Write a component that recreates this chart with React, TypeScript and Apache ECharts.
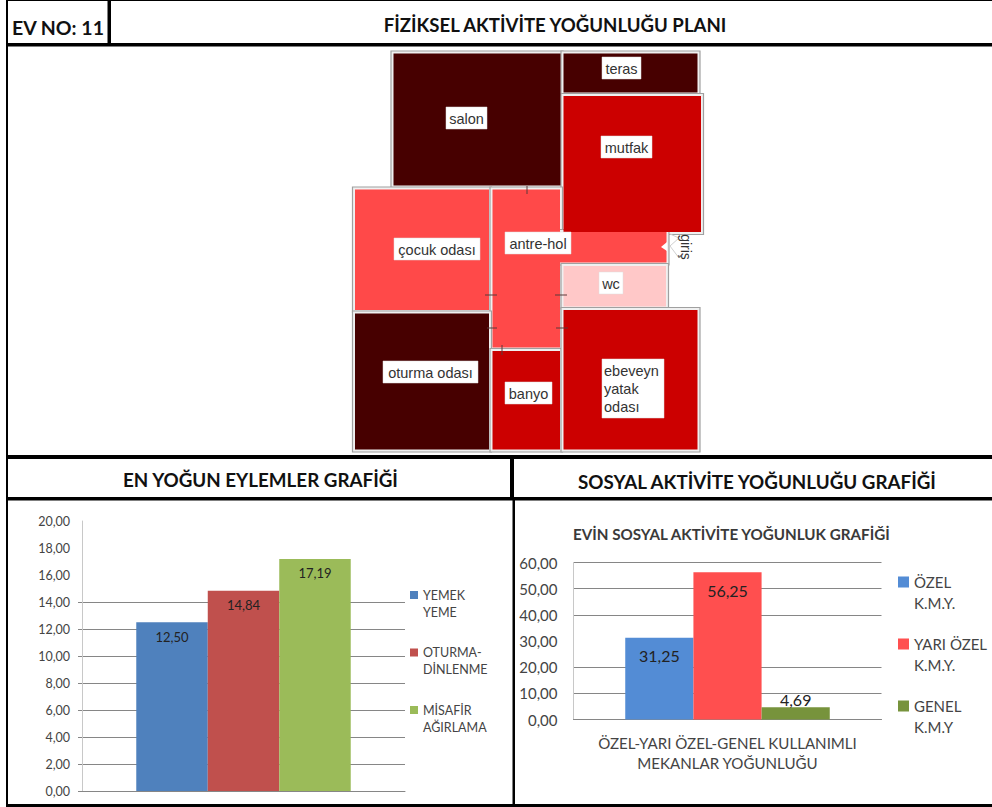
import React, { useEffect, useRef } from "react";
import * as echarts from "echarts";

// ---- data ----
const eylemNames = ["YEMEK\nYEME", "OTURMA-\nDİNLENME", "MİSAFİR\nAĞIRLAMA"];
const eylemValues = [12.5, 14.84, 17.19];
const sosyalNames = ["ÖZEL\nK.M.Y.", "YARI ÖZEL\nK.M.Y.", "GENEL\nK.M.Y"];
const sosyalValues = [31.25, 56.25, 4.69];
const sosyalCategory = ["ÖZEL-YARI ÖZEL-GENEL KULLANIMLI\nMEKANLAR YOĞUNLUĞU"];
const headerEvNo = "EV NO: 11";
const headerPlan = "FİZİKSEL AKTİVİTE YOĞUNLUĞU PLANI";
const headerEylem = "EN YOĞUN EYLEMLER GRAFİĞİ";
const headerSosyal = "SOSYAL AKTİVİTE YOĞUNLUĞU GRAFİĞİ";
const sosyalTitle = "EVİN SOSYAL AKTİVİTE YOĞUNLUK GRAFİĞİ";

const UI_FONT = "Lato, 'Open Sans', sans-serif";
const PLAN_FONT = "'Liberation Sans', Arial, sans-serif";

const C_DARK = "#470000";
const C_MID = "#CC0000";
const C_LIGHT = "#FF4949";
const C_PALE = "#FFC8C8";

type R = [number, number, number, number, string];
const rooms: R[] = [
  [393.5, 53.5, 560.5, 185.5, C_DARK],
  [563.5, 53.5, 697.5, 92.5, C_DARK],
  [563.5, 96, 701, 232, C_MID],
  [355, 189.5, 489, 310, C_LIGHT],
  [492.5, 189.5, 560, 347.5, C_LIGHT],
  [560, 232, 666.5, 262.5, C_LIGHT],
  [563.5, 266, 666, 306.5, C_PALE],
  [355, 313.5, 489, 449.5, C_DARK],
  [492.5, 351, 560, 449.5, C_MID],
  [563.5, 310, 697.5, 449.5, C_MID],
];

const labels: [string, number, number, number, number][] = [
  ["salon", 446, 107, 487, 129],
  ["teras", 602, 57, 641, 79],
  ["mutfak", 601, 136, 652, 158],
  ["çocuk odası", 394, 238, 480, 260],
  ["antre-hol", 505, 232, 571, 254],
  ["wc", 599, 272, 623, 294],
  ["oturma odası", 383, 361, 478, 383],
  ["banyo", 505, 382, 552, 404],
];

const doorTicks: [number, number, number, number][] = [
  [527, 186, 527, 194],
  [485, 295, 497, 295],
  [555, 295, 567, 295],
  [487, 328, 497, 328],
  [556, 328, 568, 328],
  [502, 345, 502, 355],
];

const blackBars: [number, number, number, number][] = [
  [6, 0, 986, 1],
  [6, 43, 986, 3.5],
  [6, 455, 986, 4],
  [6, 497, 986, 3.5],
  [6, 804, 986, 3],
  [6, 0, 2, 807],
  [107.5, 0, 3.5, 45],
  [510, 455, 4, 45],
  [512.5, 500, 2.5, 304],
];

function planGraphics() {
  const g: any[] = [];
  rooms.forEach(([a, b, c, d]) =>
    g.push({
      type: "rect",
      shape: { x: a - 2.5, y: b - 2.5, width: c - a + 5, height: d - b + 5 },
      style: { fill: "#f0f0f0", stroke: "#a0a0a0", lineWidth: 1.2 },
      z: 1,
    })
  );
  rooms.forEach(([a, b, c, d, col]) =>
    g.push({
      type: "rect",
      shape: { x: a, y: b, width: c - a, height: d - b },
      style: { fill: col },
      z: 2,
    })
  );
  doorTicks.forEach(([x1, y1, x2, y2]) =>
    g.push({
      type: "line",
      shape: { x1, y1, x2, y2 },
      style: { stroke: "#5a3a3a", lineWidth: 1 },
      z: 3,
    })
  );
  g.push({
    type: "polygon",
    shape: { points: [[661, 247], [667, 242], [667, 251]] },
    style: { fill: "#ffffff" },
    z: 3,
  });
  g.push({
    type: "polyline",
    shape: { points: [[670, 234], [679, 238], [670, 246], [679, 258]] },
    style: { stroke: "#cfcfcf", fill: "none", lineWidth: 1 },
    z: 3,
  });
  labels.forEach(([t, a, b, c, d]) => {
    g.push({
      type: "rect",
      shape: { x: a, y: b, width: c - a, height: d - b },
      style: { fill: "#ffffff", stroke: "#dddddd", lineWidth: 0.5 },
      z: 4,
    });
    g.push({
      type: "text",
      x: (a + c) / 2,
      y: (b + d) / 2 + 0.5,
      style: { text: t, font: `14.5px ${PLAN_FONT}`, fill: "#333333", align: "center", verticalAlign: "middle" },
      z: 5,
    });
  });
  g.push({
    type: "rect",
    shape: { x: 602, y: 359, width: 62, height: 59 },
    style: { fill: "#ffffff", stroke: "#dddddd", lineWidth: 0.5 },
    z: 4,
  });
  g.push({
    type: "text",
    x: 604,
    y: 388.5,
    style: {
      text: "ebeveyn\nyatak\nodası",
      font: `14.5px ${PLAN_FONT}`,
      lineHeight: 18,
      fill: "#333333",
      align: "left",
      verticalAlign: "middle",
    },
    z: 5,
  });
  g.push({
    type: "text",
    x: 686,
    y: 247,
    rotation: -Math.PI / 2,
    style: { text: "giriş", font: `14px ${PLAN_FONT}`, fill: "#333333", align: "center", verticalAlign: "middle" },
    z: 5,
  });
  return g;
}

function tableGraphics() {
  const g: any[] = blackBars.map(([x, y, width, height]) => ({
    type: "rect",
    shape: { x, y, width, height },
    style: { fill: "#000000" },
    z: 10,
  }));
  const heads: [string, number, number, number][] = [
    [headerEvNo, 58, 27, 19.5],
    [headerPlan, 555, 24.5, 18.6],
    [headerEylem, 260.5, 479.5, 18.8],
    [headerSosyal, 757, 481, 18.8],
  ];
  heads.forEach(([text, x, y, size]) =>
    g.push({
      type: "text",
      x,
      y,
      style: { text, font: `bold ${size}px ${UI_FONT}`, fill: "#111111", align: "center", verticalAlign: "middle" },
      z: 10,
    })
  );
  return g;
}

const comma = (v: number) => v.toFixed(2).replace(".", ",");

function barSeries(
  name: string,
  value: number,
  color: string,
  axisIndex: number,
  fontSize: number,
  labelPos: string,
  distance: number
) {
  return {
    type: "bar",
    name,
    xAxisIndex: axisIndex,
    yAxisIndex: axisIndex,
    data: [value],
    barGap: 0,
    barCategoryGap: "33.6%",
    itemStyle: { color },
    label: {
      show: true,
      position: labelPos,
      distance,
      formatter: (p: any) => comma(p.value),
      color: "#222222",
      fontFamily: UI_FONT,
      fontSize,
    },
  };
}

export default function App() {
  const ref = useRef<HTMLDivElement>(null);
  useEffect(() => {
    const chart = echarts.init(ref.current!, undefined, { renderer: "svg" });
    const gray = "#868686";
    const none = "rgba(0,0,0,0)";
    const leftColors = [gray, gray, gray, gray, gray, gray, gray, gray, none, none, none];
    const rightColors = [gray, gray, gray, none, gray, gray, gray];
    const axisText = { color: "#444444", fontFamily: UI_FONT };
    chart.setOption({
      animation: false,
      backgroundColor: "#ffffff",
      title: {
        text: sosyalTitle,
        left: 573,
        top: 526,
        padding: 0,
        textStyle: { fontFamily: UI_FONT, fontWeight: "bold", fontSize: 15.2, color: "#3a3a3a" },
      },
      grid: [
        { left: 82, top: 521, width: 323, height: 270 },
        { left: 573.5, top: 562.5, width: 308, height: 157 },
      ],
      xAxis: [
        {
          type: "category",
          gridIndex: 0,
          data: [""],
          axisTick: { show: false },
          axisLabel: { show: false },
          axisLine: { lineStyle: { color: gray } },
        },
        {
          type: "category",
          gridIndex: 1,
          data: sosyalCategory,
          axisTick: { show: false },
          axisLine: { lineStyle: { color: gray } },
          axisLabel: { ...axisText, fontSize: 15.1, lineHeight: 20, margin: 13, interval: 0 },
        },
      ],
      yAxis: [
        {
          type: "value",
          gridIndex: 0,
          min: 0,
          max: 20,
          interval: 2,
          axisLine: { show: true, lineStyle: { color: "#c8c8c8" } },
          axisTick: { show: true, length: 4, lineStyle: { color: gray }, customValues: [0, 2, 4, 6, 8, 10, 12, 14] },
          splitLine: { show: true, lineStyle: { color: leftColors } },
          axisLabel: { ...axisText, fontSize: 12.5, margin: 12, formatter: comma },
        },
        {
          type: "value",
          gridIndex: 1,
          min: 0,
          max: 60,
          interval: 10,
          axisLine: { show: true, lineStyle: { color: "#c8c8c8" } },
          axisTick: { show: false },
          splitLine: { show: true, lineStyle: { color: rightColors } },
          axisLabel: { ...axisText, fontSize: 15, margin: 16, formatter: comma },
        },
      ],
      legend: [
        {
          data: eylemNames.map((name) => ({
            name,
            icon: "path://M0 0L0.01 0M0 4.5H8V12.5H0ZM0 34L0.01 34",
          })),
          orient: "vertical",
          left: 410,
          top: 586.5,
          padding: 0,
          itemWidth: 8,
          itemHeight: 34,
          itemGap: 23.5,
          selectedMode: false,
          textStyle: { ...axisText, fontSize: 12.5, lineHeight: 17 },
        },
        {
          data: sosyalNames.map((name) => ({
            name,
            icon: "path://M0 0L0.01 0M0 5H11V16H0ZM0 42L0.01 42",
          })),
          orient: "vertical",
          left: 898,
          top: 571.5,
          padding: 0,
          itemWidth: 11,
          itemHeight: 42,
          itemGap: 20,
          selectedMode: false,
          textStyle: { ...axisText, fontSize: 15, lineHeight: 21 },
        },
      ],
      series: [
        barSeries(eylemNames[0], eylemValues[0], "#4F81BD", 0, 13, "insideTop", 8),
        barSeries(eylemNames[1], eylemValues[1], "#C0504D", 0, 13, "insideTop", 8),
        barSeries(eylemNames[2], eylemValues[2], "#9BBB59", 0, 13, "insideTop", 8),
        barSeries(sosyalNames[0], sosyalValues[0], "#538CD5", 1, 16, "insideTop", 10),
        barSeries(sosyalNames[1], sosyalValues[1], "#FF4F4F", 1, 16, "insideTop", 10),
        barSeries(sosyalNames[2], sosyalValues[2], "#77933C", 1, 16, "top", 0),
      ],
      graphic: [...planGraphics(), ...tableGraphics()],
    });
    return () => chart.dispose();
  }, []);
  return (
    <div
      ref={ref}
      style={{ position: "absolute", left: 0, top: 0, width: 992, height: 807 }}
    />
  );
}
